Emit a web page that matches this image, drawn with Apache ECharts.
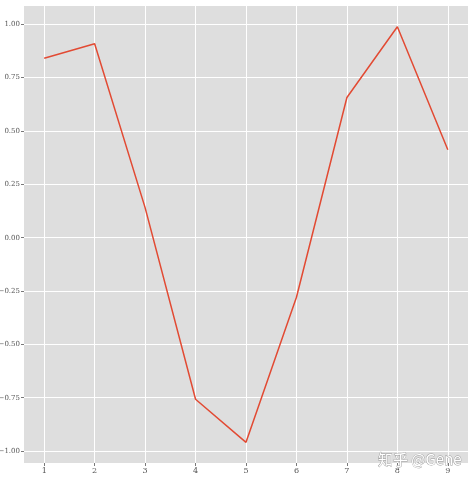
<!DOCTYPE html>
<html><head><meta charset="utf-8">
<script src="https://cdn.jsdelivr.net/npm/echarts@6/dist/echarts.min.js"></script>
<style>html,body{margin:0;padding:0;background:#fff}#c{width:474px;height:478px}</style>
</head><body><div id="c"></div>
<script>
const xValues = [1, 2, 3, 4, 5, 6, 7, 8, 9];
const yValues = [0.841, 0.909, 0.141, -0.757, -0.959, -0.279, 0.657, 0.989, 0.412];
const xTicks = [1, 2, 3, 4, 5, 6, 7, 8, 9];
const yTicks = [-1.0, -0.75, -0.5, -0.25, 0.0, 0.25, 0.5, 0.75, 1.0];
const watermark = '知乎 @Gene';

const fontFam = '"DejaVu Serif", "Liberation Serif", serif';
const chart = echarts.init(document.getElementById('c'), null, {renderer: 'canvas'});
chart.setOption({
  animation: false,
  backgroundColor: '#ffffff',
  grid: {left: 24, right: 6, top: 6, bottom: 15, show: true, backgroundColor: '#DEDEDE', borderWidth: 0,
    containLabel: false, outerBoundsMode: 'none'},
  xAxis: {
    type: 'value', min: 0.6, max: 9.4,
    axisLine: {show: false, onZero: false},
    axisTick: {show: true, length: 3, lineStyle: {color: '#555', width: 0.8}, customValues: xTicks},
    axisLabel: {customValues: xTicks, color: '#555', fontFamily: fontFam, fontSize: 8, margin: 4,
      formatter: v => String(v)},
    splitLine: {show: true, lineStyle: {color: '#ffffff', width: 1}}
  },
  yAxis: {
    type: 'value', min: -1.056, max: 1.086,
    axisLine: {show: false, onZero: false},
    axisTick: {show: true, length: 3, lineStyle: {color: '#555', width: 0.8}, customValues: yTicks},
    axisLabel: {customValues: yTicks, color: '#555', fontFamily: fontFam, fontSize: 7, margin: 4,
      formatter: v => (v < 0 ? '\u2212' : '') + Math.abs(v).toFixed(2)},
    splitLine: {show: true, lineStyle: {color: '#ffffff', width: 1}}
  },
  graphic: [{
    type: 'text', right: 12, bottom: 11, silent: true, z: 100,
    style: {text: watermark, fill: '#ffffff', font: '15px "Noto Sans CJK SC", sans-serif',
      stroke: '#999999', lineWidth: 0.8}
  }],
  series: [{
    type: 'line',
    data: xValues.map((x, i) => [x, yValues[i]]),
    showSymbol: false, symbol: 'none',
    lineStyle: {color: '#E24A33', width: 1.5},
    z: 3
  }]
});
</script></body></html>
